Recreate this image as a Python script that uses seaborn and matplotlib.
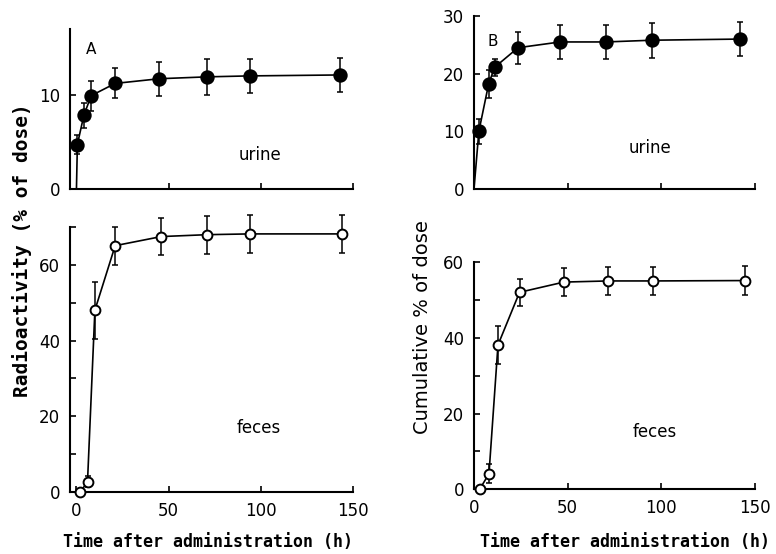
import numpy as np
import pandas as pd
import matplotlib
matplotlib.use("Agg")
import matplotlib.pyplot as plt
import seaborn as sns
from matplotlib.ticker import FixedLocator

# ---- data ----
urine_A_t = [0.5, 4, 8, 21, 45, 71, 94, 143]
urine_A_y = [4.7, 7.8, 9.9, 11.2, 11.7, 11.9, 12.0, 12.1]
urine_A_e = [1.0, 1.3, 1.6, 1.6, 1.8, 1.9, 1.8, 1.8]

feces_A_t = [2, 6, 10, 21, 46, 71, 94, 144]
feces_A_y = [0, 2.8, 48, 65, 67.4, 67.9, 68.1, 68.1]
feces_A_e = [0.4, 1.5, 7.5, 5.0, 4.8, 5.0, 5.0, 5.0]

urine_B_t = [2.6, 7.8, 11, 23.5, 46, 70.4, 95, 142]
urine_B_y = [10.0, 18.2, 21.1, 24.5, 25.5, 25.5, 25.8, 26.0]
urine_B_e = [2.2, 2.5, 1.5, 2.8, 3.0, 3.0, 3.0, 3.0]

feces_B_t = [3, 8, 12.8, 24.3, 48, 71.6, 95.8, 144.5]
feces_B_y = [0, 4.1, 38.1, 52.0, 54.7, 55.0, 55.0, 55.1]
feces_B_e = [0.4, 2.5, 5.0, 3.5, 3.8, 3.8, 3.8, 3.8]

x_ticks = [0, 50, 100, 150]
x_label = "Time after administration (h)"
ylabel_A = "Radioactivity (% of dose)"
ylabel_B = "Cumulative % of dose"

sns.set_style("ticks")
plt.rcParams['font.family'] = ['DejaVu Sans']
plt.rcParams.update({
    "text.color": "black", "axes.labelcolor": "black",
    "xtick.color": "black", "ytick.color": "black",
    "axes.edgecolor": "black",
})

W, H = 776, 554
fig = plt.figure(figsize=(W / 100, H / 100), dpi=100)


def axes_px(left, right, bottom, top):
    return fig.add_axes([left / W, 1 - bottom / H, (right - left) / W, (bottom - top) / H])


ax_tl = axes_px(70, 353, 188.7, 28.9)
ax_bl = axes_px(70, 353, 492.3, 226.7)
ax_tr = axes_px(474, 755, 189, 16)
ax_br = axes_px(474, 755, 489.3, 262)


def panel(ax, t, y, e, filled, origin, xlim, ylim, yticks, yminor, xlabels):
    lt = ([0] + list(t)) if origin else list(t)
    ly = ([0] + list(y)) if origin else list(y)
    df = pd.DataFrame({"t": lt, "y": ly})
    sns.lineplot(data=df, x="t", y="y", ax=ax, color="black", lw=1.2,
                 estimator=None, sort=False, zorder=2)
    ax.errorbar(t, y, yerr=e, fmt="none", ecolor="black", elinewidth=1.1,
                capsize=2.5, capthick=1.1, clip_on=False, zorder=2)
    sns.scatterplot(x=t, y=y, ax=ax, color="black" if filled else "white",
                    edgecolor="black", s=80 if filled else 50, linewidth=1.4,
                    zorder=3, clip_on=False)
    ax.set_xlim(*xlim)
    ax.set_ylim(*ylim)
    ax.set_xlabel("")
    ax.set_ylabel("")
    for s in ("top", "right"):
        ax.spines[s].set_visible(False)
    for s in ("left", "bottom"):
        ax.spines[s].set_linewidth(1.5)
        ax.spines[s].set_color("black")
    ax.yaxis.set_major_locator(FixedLocator(yticks))
    ax.yaxis.set_minor_locator(FixedLocator(yminor))
    ax.xaxis.set_major_locator(FixedLocator(x_ticks if xlabels else x_ticks[1:]))
    ax.tick_params(axis="both", which="both", direction="in", width=1.2, colors="black")
    ax.tick_params(axis="both", which="major", length=4, labelsize=12, pad=7)
    ax.tick_params(axis="y", which="minor", length=4)
    ax.tick_params(axis="x", labelbottom=xlabels)


panel(ax_tl, urine_A_t, urine_A_y, urine_A_e, True, True, (-3.5, 150), (0, 17), [0, 10], [], False)
panel(ax_bl, feces_A_t, feces_A_y, feces_A_e, False, False, (-3.5, 150), (0, 70), [0, 20, 40, 60], [10, 30, 50, 70], True)
panel(ax_tr, urine_B_t, urine_B_y, urine_B_e, True, True, (0, 150), (0, 30), [0, 10, 20, 30], [], False)
panel(ax_br, feces_B_t, feces_B_y, feces_B_e, False, False, (0, 150), (0, 60), [0, 20, 40, 60], [10, 30, 50], True)

# annotations
fig.text(91 / W, 1 - 50 / H, "A", fontsize=11, ha="center", va="center")
fig.text(493 / W, 1 - 42 / H, "B", fontsize=11, ha="center", va="center")
fig.text(260 / W, 1 - 155 / H, "urine", fontsize=12, ha="center", va="center")
fig.text(650 / W, 1 - 148 / H, "urine", fontsize=12, ha="center", va="center")
fig.text(259 / W, 1 - 428 / H, "feces", fontsize=12, ha="center", va="center")
fig.text(655 / W, 1 - 432 / H, "feces", fontsize=12, ha="center", va="center")

fig.text(208 / W, 1 - 542 / H, x_label, fontsize=12, fontweight="bold",
         family="DejaVu Sans Mono", ha="center", va="center")
fig.text(625 / W, 1 - 542 / H, x_label, fontsize=12, fontweight="bold",
         family="DejaVu Sans Mono", ha="center", va="center")
fig.text(22 / W, 1 - 250 / H, ylabel_A, fontsize=14, fontweight="bold",
         family="DejaVu Sans Mono", rotation=90, ha="center", va="center")
fig.text(423 / W, 1 - 327 / H, ylabel_B, fontsize=14,
         family="DejaVu Sans", rotation=90, ha="center", va="center")

fig.savefig("out.png", dpi=100)
